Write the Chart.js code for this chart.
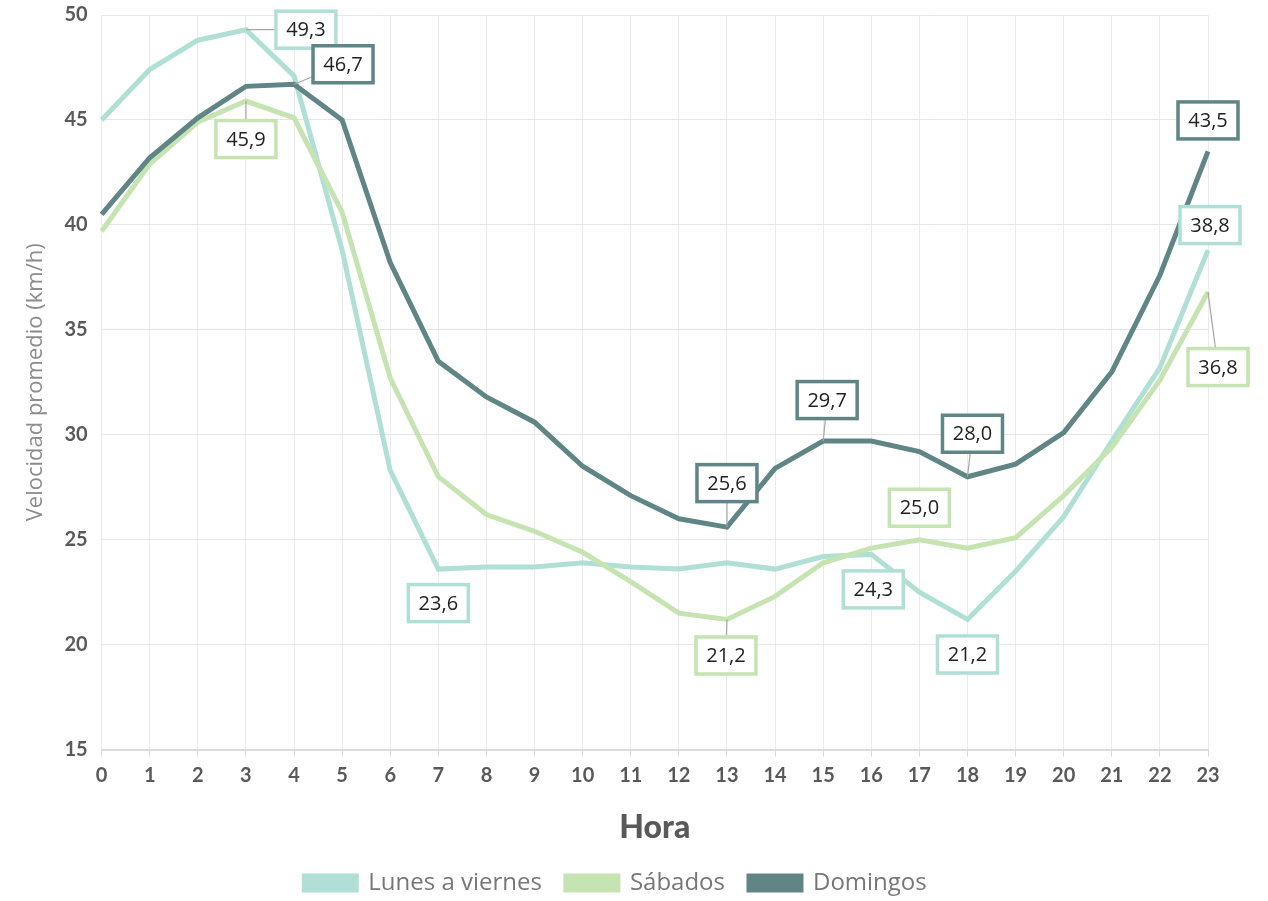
<!DOCTYPE html>
<html>
<head>
<meta charset="utf-8">
<script src="https://cdn.jsdelivr.net/npm/chart.js@4.4.1/dist/chart.umd.min.js"></script>
<style>
  html, body { margin: 0; padding: 0; background: #fff; }
  #wrap { width: 1268px; height: 901px; }
</style>
</head>
<body>
<div id="wrap"><canvas id="myChart"></canvas></div>
<script>
const horas = ['0', '1', '2', '3', '4', '5', '6', '7', '8', '9', '10', '11',
               '12', '13', '14', '15', '16', '17', '18', '19', '20', '21', '22', '23'];

const lunesViernes = [45.0, 47.4, 48.8, 49.3, 47.1, 38.8, 28.3, 23.6, 23.7, 23.7, 23.9, 23.7,
                      23.6, 23.9, 23.6, 24.2, 24.3, 22.5, 21.2, 23.5, 26.1, 29.7, 33.2, 38.8];
const sabados = [39.7, 42.9, 44.9, 45.9, 45.1, 40.6, 32.7, 28.0, 26.2, 25.4, 24.4, 23.0,
                 21.5, 21.2, 22.3, 23.9, 24.6, 25.0, 24.6, 25.1, 27.1, 29.4, 32.6, 36.8];
const domingos = [40.5, 43.2, 45.1, 46.6, 46.7, 45.0, 38.2, 33.5, 31.8, 30.6, 28.5, 27.1,
                  26.0, 25.6, 28.4, 29.7, 29.7, 29.2, 28.0, 28.6, 30.1, 33.0, 37.6, 43.5];

const seriesNames = ['Lunes a viernes', 'Sábados', 'Domingos'];
const seriesColors = ['#b0e0d5', '#c5e4b1', '#5f8585'];

// which points get a value label: [serie, hora, dx, dy, leader]
const etiquetas = [
    [0, 3, 60, 0, true],
    [0, 7, 0, 34, false],
    [0, 16, 2, 35, false],
    [0, 18, 0, 35, false],
    [0, 23, 2, -25, false],
    [1, 3, 0, 38, true],
    [1, 13, -1, 36, true],
    [1, 17, 0, -32, false],
    [1, 23, 10, 75, true],
    [2, 4, 49, -20, true],
    [2, 13, 0, -44, true],
    [2, 15, 4, -41, true],
    [2, 18, 5, -43, true],
    [2, 23, 0, -31, false],
];

const allSeries = [lunesViernes, sabados, domingos];

const labelPlugin = {
    id: 'valueLabels',
    afterDatasetsDraw(chart) {
        const ctx = chart.ctx;
        const xs = chart.scales.x;
        const ys = chart.scales.y;
        ctx.save();
        ctx.font = '20px "Open Sans"';
        ctx.textAlign = 'center';
        ctx.textBaseline = 'middle';
        etiquetas.forEach(function (e) {
            const val = allSeries[e[0]][e[1]];
            const px = xs.getPixelForValue(e[1]);
            const py = ys.getPixelForValue(val);
            const cx = px + e[2];
            const cy = py + e[3];
            const w = 60, h = 37;
            if (e[4]) {
                ctx.strokeStyle = '#a6a6a6';
                ctx.lineWidth = 1.2;
                ctx.beginPath();
                ctx.moveTo(px, py);
                ctx.lineTo(cx, cy);
                ctx.stroke();
            }
            ctx.fillStyle = '#fff';
            ctx.fillRect(cx - w / 2, cy - h / 2, w, h);
            ctx.strokeStyle = seriesColors[e[0]];
            ctx.lineWidth = 3.5;
            ctx.strokeRect(cx - w / 2, cy - h / 2, w, h);
            ctx.fillStyle = '#222';
            ctx.fillText(val.toFixed(1).replace('.', ','), cx, cy + 1);
        });
        ctx.restore();
    }
};

const ctx = document.getElementById('myChart').getContext('2d');

new Chart(ctx, {
    type: 'line',
    data: {
        labels: horas,
        datasets: allSeries.map(function (s, i) {
            return {
                label: seriesNames[i],
                data: s,
                borderColor: seriesColors[i],
                backgroundColor: seriesColors[i],
                borderWidth: 5,
                pointRadius: 0,
                tension: 0,
                order: 3 - i,
            };
        }),
    },
    options: {
        responsive: true,
        maintainAspectRatio: false,
        animation: false,
        layout: {
            padding: { left: 23, right: 60, top: 15, bottom: -4 },
        },
        plugins: {
            legend: {
                display: true,
                position: 'bottom',
                labels: {
                    boxWidth: 52,
                    boxHeight: 14,
                    padding: 24,
                    color: '#777777',
                    font: { family: 'Open Sans', size: 24 },
                    sort: function (a, b) { return a.datasetIndex - b.datasetIndex; },
                },
            },
            tooltip: { enabled: false },
        },
        scales: {
            x: {
                offset: false,
                grid: {
                    color: '#ebebeb',
                    lineWidth: 1,
                    tickLength: 7,
                    tickColor: '#dcdcdc',
                },
                border: { color: '#dcdcdc', width: 2 },
                ticks: {
                    color: '#595959',
                    font: { family: 'Lato', size: 20, weight: 'bold' },
                    padding: 7,
                    maxRotation: 0,
                    autoSkip: false,
                },
                title: {
                    display: true,
                    text: 'Hora',
                    color: '#595959',
                    font: { family: 'Lato', size: 32, weight: '900' },
                    padding: { top: 14, bottom: 0 },
                },
            },
            y: {
                min: 15,
                max: 50,
                afterFit: function (scale) {
                    scale.paddingTop = 0;
                },
                grid: {
                    color: '#e6e6e6',
                    lineWidth: 1,
                    drawTicks: false,
                },
                border: { display: false },
                ticks: {
                    stepSize: 5,
                    color: '#595959',
                    font: { family: 'Lato', size: 20, weight: 'bold' },
                    padding: 14,
                },
                title: {
                    display: true,
                    text: 'Velocidad promedio (km/h)',
                    color: '#8c8c8c',
                    font: { family: 'Open Sans', size: 22 },
                    padding: { top: 0, bottom: 1 },
                },
            },
        },
    },
    plugins: [labelPlugin],
});
</script>
</body>
</html>
